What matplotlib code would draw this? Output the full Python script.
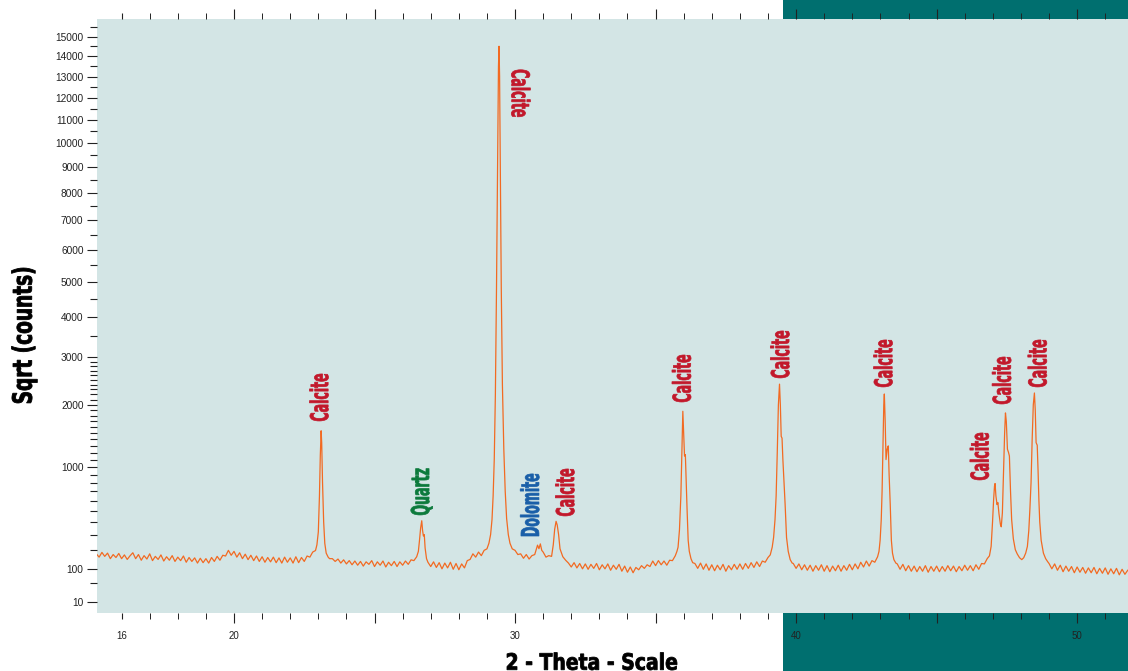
import numpy as np
import matplotlib
matplotlib.use("Agg")
import matplotlib.pyplot as plt
from matplotlib.font_manager import FontProperties
from matplotlib.patches import PathPatch, Rectangle
from matplotlib.textpath import TextPath
from matplotlib.transforms import Affine2D, ScaledTranslation

# ---- data (2-theta in degrees, counts) ----
two_theta = [
    15.1, 15.2, 15.3, 15.4, 15.5, 15.6, 15.7, 15.8, 15.9, 16.0,
    16.1, 16.2, 16.3, 16.4, 16.5, 16.6, 16.7, 16.8, 16.9, 17.0,
    17.1, 17.2, 17.3, 17.4, 17.5, 17.6, 17.7, 17.8, 17.9, 18.0,
    18.1, 18.2, 18.3, 18.4, 18.5, 18.6, 18.7, 18.8, 18.9, 19.0,
    19.1, 19.2, 19.3, 19.4, 19.5, 19.6, 19.7, 19.8, 19.9, 20.0,
    20.1, 20.2, 20.3, 20.4, 20.5, 20.6, 20.7, 20.8, 20.9, 21.0,
    21.1, 21.2, 21.3, 21.4, 21.5, 21.6, 21.7, 21.8, 21.9, 22.0,
    22.1, 22.2, 22.3, 22.4, 22.5, 22.6, 22.7, 22.8,
    22.9, 22.95, 23.0, 23.04, 23.07, 23.1, 23.12, 23.15, 23.19, 23.23, 23.28, 23.35, 23.4,
    23.5, 23.6, 23.7, 23.8, 23.9, 24.0, 24.1, 24.2, 24.3, 24.4,
    24.5, 24.6, 24.7, 24.8, 24.9, 25.0, 25.1, 25.2, 25.3, 25.4,
    25.5, 25.6, 25.7, 25.8, 25.9, 26.0, 26.1, 26.2, 26.3, 26.4,
    26.5, 26.56, 26.6, 26.64, 26.68, 26.71, 26.74, 26.77, 26.8, 26.85, 26.9,
    27.0, 27.1, 27.2, 27.3, 27.4, 27.5, 27.6, 27.7, 27.8, 27.9,
    28.0, 28.1, 28.2, 28.3, 28.4, 28.5, 28.6, 28.7, 28.8, 28.9,
    29.0, 29.07, 29.13, 29.18, 29.22, 29.26, 29.3, 29.34, 29.38, 29.41, 29.43,
    29.45, 29.48, 29.51, 29.55, 29.6, 29.65, 29.7, 29.76, 29.82, 29.9,
    30.0, 30.1, 30.2, 30.3, 30.4, 30.5, 30.6, 30.7, 30.8, 30.85, 30.9, 30.95,
    31.0, 31.1, 31.2, 31.3, 31.36, 31.41, 31.46, 31.5, 31.55, 31.6, 31.7, 31.8, 31.9,
    32.0, 32.1, 32.2, 32.3, 32.4, 32.5, 32.6, 32.7, 32.8, 32.9,
    33.0, 33.1, 33.2, 33.3, 33.4, 33.5, 33.6, 33.7, 33.8, 33.9,
    34.0, 34.1, 34.2, 34.3, 34.4, 34.5, 34.6, 34.7, 34.8, 34.9,
    35.0, 35.1, 35.2, 35.3, 35.4, 35.5, 35.6,
    35.7, 35.76, 35.8, 35.85, 35.9, 35.94, 35.97, 36.0, 36.03, 36.06, 36.09,
    36.12, 36.16, 36.2, 36.26, 36.32,
    36.4, 36.5, 36.6, 36.7, 36.8, 36.9, 37.0, 37.1, 37.2, 37.3,
    37.4, 37.5, 37.6, 37.7, 37.8, 37.9, 38.0, 38.1, 38.2, 38.3,
    38.4, 38.5, 38.6, 38.7, 38.8, 38.9, 39.0,
    39.08, 39.15, 39.2, 39.25, 39.29, 39.33, 39.37, 39.41, 39.44, 39.47, 39.5,
    39.53, 39.57, 39.61, 39.66, 39.72, 39.79, 39.86,
    39.9, 40.0, 40.1, 40.2, 40.3, 40.4, 40.5, 40.6, 40.7, 40.8,
    40.9, 41.0, 41.1, 41.2, 41.3, 41.4, 41.5, 41.6, 41.7, 41.8,
    41.9, 42.0, 42.1, 42.2, 42.3, 42.4, 42.5, 42.6, 42.7, 42.8, 42.9,
    42.95, 42.99, 43.03, 43.06, 43.09, 43.12, 43.14, 43.17, 43.2, 43.24, 43.28,
    43.31, 43.35, 43.39, 43.43, 43.48, 43.55,
    43.6, 43.7, 43.8, 43.9, 44.0, 44.1, 44.2, 44.3, 44.4, 44.5,
    44.6, 44.7, 44.8, 44.9, 45.0, 45.1, 45.2, 45.3, 45.4, 45.5,
    45.6, 45.7, 45.8, 45.9, 46.0, 46.1, 46.2, 46.3, 46.4, 46.5,
    46.6, 46.7, 46.8,
    46.88, 46.94, 46.99, 47.03, 47.06, 47.08, 47.11, 47.15, 47.18, 47.22, 47.27,
    47.3, 47.34, 47.38, 47.42, 47.45, 47.48, 47.52, 47.56, 47.59, 47.63, 47.67,
    47.73, 47.8, 47.87, 47.95, 48.03, 48.1, 48.17, 48.23, 48.28, 48.32, 48.36,
    48.4, 48.44, 48.48, 48.51, 48.54, 48.58, 48.61, 48.64, 48.67, 48.72, 48.8,
    48.88, 48.95,
    49.0, 49.1, 49.2, 49.3, 49.4, 49.5, 49.6, 49.7, 49.8, 49.9,
    50.0, 50.1, 50.2, 50.3, 50.4, 50.5, 50.6, 50.7, 50.8, 50.9,
    51.0, 51.1, 51.2, 51.3, 51.4, 51.5, 51.6, 51.7, 51.8,
]
counts = [
    176, 158, 184, 162, 180, 150, 172, 156, 178, 150,
    170, 146, 165, 182, 150, 172, 142, 166, 148, 176,
    140, 162, 146, 170, 138, 160, 142, 166, 136, 158,
    140, 164, 132, 156, 136, 154, 128, 152, 130, 150,
    128, 156, 136, 162, 142, 168, 164, 196, 168, 190,
    158, 182, 150, 174, 145, 168, 140, 164, 136, 160,
    132, 156, 134, 158, 130, 154, 128, 158, 132, 154,
    128, 160, 130, 156, 136, 164, 158, 186,
    195, 230, 320, 650, 1150, 1540, 1350, 800, 400, 240, 180, 158, 150,
    150, 136, 148, 128, 144, 124, 140, 120, 138, 118,
    136, 114, 134, 122, 140, 112, 134, 118, 138, 110,
    132, 116, 136, 112, 134, 118, 138, 122, 144, 140,
    160, 190, 260, 350, 410, 330, 290, 300, 210, 150, 132,
    112, 134, 108, 130, 102, 128, 106, 132, 100, 126,
    98, 124, 106, 140, 146, 176, 158, 186, 166, 196,
    205, 240, 300, 420, 650, 1100, 2200, 4800, 9500, 13500, 14500,
    13000, 8500, 4800, 2400, 1250, 700, 430, 300, 240, 205,
    196, 172, 176, 152, 172, 148, 166, 172, 228, 206, 236, 196,
    186, 158, 166, 162, 230, 340, 405, 375, 300, 205, 160, 142, 128,
    110, 130, 106, 126, 102, 124, 100, 122, 104, 126,
    98, 120, 102, 124, 96, 118, 100, 122, 92, 114,
    88, 110, 86, 108, 98, 116, 104, 120, 112, 138,
    116, 140, 120, 138, 118, 142, 140,
    165, 190, 215, 335, 650, 1300, 1880, 1500, 1150, 1170, 800,
    520, 260, 190, 150, 130,
    126, 104, 128, 100, 124, 96, 120, 94, 118, 98,
    122, 92, 116, 98, 122, 100, 124, 100, 126, 104,
    130, 108, 134, 112, 138, 132, 156,
    170, 215, 280, 420, 650, 1200, 2000, 2410, 2000, 1450, 1420,
    1100, 800, 560, 280, 190, 145, 128,
    126, 104, 124, 98, 120, 96, 118, 92, 116, 96,
    120, 92, 116, 90, 114, 94, 118, 92, 116, 96,
    122, 98, 124, 102, 132, 110, 138, 114, 140, 132, 160,
    190, 260, 420, 700, 1300, 2000, 2210, 1700, 1100, 1250, 1300,
    900, 560, 260, 180, 145, 128,
    124, 100, 122, 94, 116, 92, 114, 90, 112, 92,
    116, 88, 112, 92, 114, 90, 112, 92, 116, 94,
    114, 90, 112, 94, 118, 96, 116, 94, 120, 100,
    126, 124, 150,
    165, 220, 400, 620, 760, 790, 650, 560, 580, 470, 380,
    360, 480, 900, 1500, 1850, 1700, 1250, 1200, 1150, 700, 420,
    270, 200, 175, 155, 145, 155, 180, 220, 330, 520, 800,
    1400, 2000, 2230, 1900, 1350, 1310, 950, 600, 400, 260, 180,
    150, 135,
    126, 102, 124, 96, 118, 90, 114, 92, 112, 86,
    110, 88, 108, 84, 106, 86, 108, 82, 104, 84,
    106, 80, 102, 82, 104, 78, 100, 80, 96,
]

# phase labels: text, 2-theta of label centre, counts at label start
label_texts = ["Calcite", "Quartz", "Calcite", "Dolomite", "Calcite", "Calcite",
               "Calcite", "Calcite", "Calcite", "Calcite", "Calcite"]
label_theta = [23.03, 26.62, 30.2, 30.53, 31.78, 35.93, 39.43, 43.10, 46.53, 47.32, 48.59]
label_counts = [1707, 461, 13330, 290, 452, 2054, 2540, 2352, 833, 2016, 2352]
label_phase = ["calcite", "quartz", "calcite", "dolomite", "calcite", "calcite",
               "calcite", "calcite", "calcite", "calcite", "calcite"]

y_major = [10, 100, 1000, 2000, 3000, 4000, 5000, 6000, 7000, 8000, 9000,
           10000, 11000, 12000, 13000, 14000, 15000]
y_minor = ([50] + list(range(200, 1000, 100)) + [v for v in range(1100, 3000, 100) if v != 2000]
           + list(range(3500, 16000, 1000)))
x_major = [16, 20, 25, 30, 35, 40, 45, 50]
x_major_labels = ["16", "20", "", "30", "", "40", "", "50"]
x_minor = [v for v in range(16, 52) if v % 5 != 0]

phase_colors = {"calcite": "#c2182b", "quartz": "#0c7a3c", "dolomite": "#1a5fa8"}

plt.rcParams["font.family"] = ["Liberation Sans", "DejaVu Sans"]
LABEL_FONT = FontProperties(family="DejaVu Sans", weight="bold")
CAP = 0.73

W, H = 1128, 671
fig = plt.figure(figsize=(W / 100, H / 100), dpi=100)
fig.add_artist(Rectangle((783 / W, 0), 1 - 783 / W, 1, transform=fig.transFigure,
                         facecolor="#006f6f", edgecolor="none", zorder=-5))

ax = fig.add_axes([97 / W, (H - 613) / H, (W - 97) / W, (613 - 19) / H])
ax.set_facecolor("#d3e5e5")
for sp in ax.spines.values():
    sp.set_visible(False)

ax.plot(two_theta, counts, color="#f26a22", lw=0.9, zorder=3)

ax.set_yscale("function", functions=(lambda v: np.sqrt(np.clip(v, 0, None)), np.square))
ax.set_xlim(15.125, 51.81)
ax.set_ylim(0.6, 15920)

ax.set_yticks(y_major)
ax.set_yticklabels([str(v) for v in y_major])
ax.set_yticks(y_minor, minor=True)
ax.set_xticks(x_major)
ax.set_xticklabels(x_major_labels)
ax.set_xticks(x_minor, minor=True)
ax.xaxis.set_minor_formatter(plt.NullFormatter())
ax.yaxis.set_minor_formatter(plt.NullFormatter())

ax.tick_params(axis="y", which="major", direction="out", length=7.2, width=0.8,
               color="#222222", labelsize=7.3, pad=2.5, labelcolor="#222222")
ax.tick_params(axis="y", which="minor", direction="out", length=4.8, width=0.8, color="#222222")
ax.tick_params(axis="x", which="major", direction="out", length=7.2, width=0.8, top=True,
               color="#222222", labelsize=7, pad=6, labelcolor="#222222")
ax.tick_params(axis="x", which="minor", direction="out", length=4.0, width=0.7, top=True,
               color="#222222")
# the tick at 16 is a short one even though it carries a label
t16 = ax.xaxis.get_major_ticks()[0]
t16.tick1line.set_markersize(4.0)
t16.tick2line.set_markersize(4.0)


def squeezed(parent, s, em_x, em_y, angle, color, offset, lw=0.5):
    tp = TextPath((0, 0), s, size=1, prop=LABEL_FONT)
    ext = tp.get_extents()
    trans = Affine2D().translate(-ext.x0, -CAP / 2).scale(em_x, em_y).rotate_deg(angle) + offset
    patch = PathPatch(tp, facecolor=color, edgecolor=color, lw=lw, transform=trans, zorder=4)
    parent.add_artist(patch)


calcite_w = TextPath((0, 0), "Calcite", size=1, prop=LABEL_FONT).get_extents().width
em_x = 47 / calcite_w
em_y = 18 / CAP
for txt, xt, yc, ph in zip(label_texts, label_theta, label_counts, label_phase):
    angle = -90 if yc > 10000 else 90
    squeezed(ax, txt, em_x, em_y, angle, phase_colors[ph], ScaledTranslation(xt, yc, ax.transData))

xl = "2 - Theta - Scale"
xl_w = TextPath((0, 0), xl, size=1, prop=LABEL_FONT).get_extents().width
squeezed(fig, xl, 170 / xl_w, 16.5 / CAP, 0, "black", Affine2D().translate(507, H - 670 + 8.5), lw=0.6)

yl = "Sqrt (counts)"
yl_w = TextPath((0, 0), yl, size=1, prop=LABEL_FONT).get_extents().width
squeezed(fig, yl, 135 / yl_w, 19.5 / CAP, 90, "black", Affine2D().translate(22, H - 403), lw=0.6)

fig.savefig("out.png", dpi=100)
